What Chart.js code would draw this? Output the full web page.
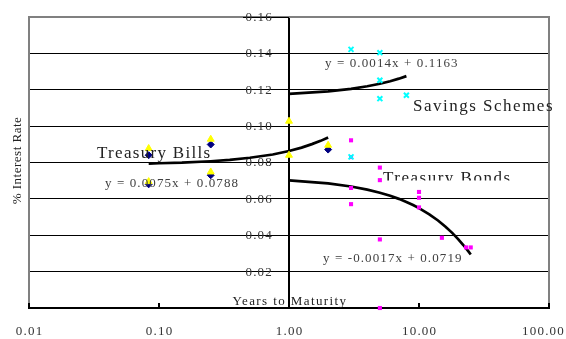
<!DOCTYPE html>
<html><head><meta charset="utf-8">
<script src="https://cdn.jsdelivr.net/npm/chart.js@4/dist/chart.umd.min.js"></script>
<style>html,body{margin:0;padding:0;background:#fff;}canvas{display:block;}</style>
</head><body>
<canvas id="c" width="566" height="339"></canvas>
<script>
// ---- tick labels ----
const xTickValues = [0.01, 0.1, 1, 10, 100];
const xTickLabels = ['0.01', '0.10', '1.00', '10.00', '100.00'];
const yTickValues = [0.02, 0.04, 0.06, 0.08, 0.10, 0.12, 0.14, 0.16];
const yTickLabels = ['0.02', '0.04', '0.06', '0.08', '0.10', '0.12', '0.14', '0.16'];
const yMin = 0, yMax = 0.16, yStep = 0.02;

// ---- Treasury Bills (two observation sets) ----
const billsNavyX   = [0.0833, 0.0833, 0.25, 0.25, 2];
const billsNavyY   = [0.084, 0.068, 0.0899, 0.073, 0.0871];
const billsYellowX = [0.0833, 0.0833, 0.25, 0.25, 1, 1, 2];
const billsYellowY = [0.0877, 0.0695, 0.0928, 0.0748, 0.1027, 0.084, 0.0895];

// ---- Savings Schemes ----
const savingsX = [3, 5, 5, 5, 8, 3];
const savingsY = [0.1422, 0.1404, 0.1252, 0.1151, 0.117, 0.0831];

// ---- Treasury Bonds ----
const bondsX = [3, 3, 5, 5, 3, 3, 10, 10, 10, 5, 15, 23, 25, 5];
const bondsY = [0.0922, 0.083, 0.0772, 0.0703, 0.066, 0.0571, 0.0638, 0.0606, 0.0553, 0.0377, 0.0386, 0.0333, 0.0333, 0.0];

// ---- Trendlines (read along the drawn fits) ----
const billsTrendX = [0.0833, 0.1, 0.15, 0.25, 0.35, 0.5, 0.75, 1, 1.25, 1.5, 1.75, 2];
const billsTrendY = [0.0794, 0.0796, 0.0799, 0.0807, 0.0814, 0.0826, 0.0844, 0.0863, 0.0882, 0.0901, 0.0919, 0.0938];
const savingsTrendX = [1, 2, 3, 4, 5, 6, 7, 8];
const savingsTrendY = [0.1177, 0.1191, 0.1205, 0.1219, 0.1233, 0.1247, 0.1261, 0.1275];
const bondsTrendX = [1, 2, 3, 4, 5, 6, 7, 8, 9, 10, 12, 14, 16, 18, 20, 22, 24, 25];
const bondsTrendY = [0.0702, 0.0685, 0.0668, 0.0651, 0.0634, 0.0617, 0.0600, 0.0583, 0.0566, 0.0549, 0.0515, 0.0481, 0.0447, 0.0413, 0.0379, 0.0345, 0.0311, 0.0294];

// ---- Text labels ----
const seriesNames = ['Treasury Bills', 'Savings Schemes', 'Treasury Bonds'];
const equations = ['y = 0.0075x + 0.0788', 'y = 0.0014x + 0.1163', 'y = -0.0017x + 0.0719'];
const xTitle = 'Years to Maturity';
const yTitle = '% Interest Rate';

const pts = (xs, ys) => xs.map((v, i) => ({x: v, y: ys[i]}));
const SERIF = "'Liberation Serif', 'Times New Roman', serif";

function drawText(ctx, s, x, y, size, color, spacing, align, baseline) {
  ctx.save();
  ctx.font = size + 'px ' + SERIF;
  ctx.fillStyle = color;
  ctx.letterSpacing = spacing + 'px';
  ctx.textAlign = align || 'left';
  ctx.textBaseline = baseline || 'alphabetic';
  ctx.fillText(s, x, y);
  ctx.restore();
}

const decor = {
  id: 'decor',
  beforeDatasetsDraw(chart) {
    const {ctx, chartArea: a, scales: {x, y}} = chart;
    const axisX = x.getPixelForValue(1);
    ctx.save();
    ctx.strokeStyle = '#808080';
    ctx.lineWidth = 2;
    ctx.beginPath();
    ctx.moveTo(a.left, a.bottom); ctx.lineTo(a.left, a.top);
    ctx.lineTo(a.right, a.top); ctx.lineTo(a.right, a.bottom);
    ctx.stroke();
    // short dark tick segment along the top value, beside the y axis
    ctx.strokeStyle = '#000';
    ctx.lineWidth = 1;
    const topY = Math.round(y.getPixelForValue(yMax)) + 0.5;
    ctx.beginPath(); ctx.moveTo(axisX - 46, topY); ctx.lineTo(axisX, topY); ctx.stroke();
    ctx.lineWidth = 2;
    xTickValues.forEach(v => {
      const px = x.getPixelForValue(v);
      ctx.beginPath(); ctx.moveTo(px, a.bottom - 5); ctx.lineTo(px, a.bottom); ctx.stroke();
    });
    ctx.restore();
    // y tick labels, left of the y axis (which sits at x = 1)
    yTickValues.forEach((v, i) => {
      drawText(ctx, yTickLabels[i], axisX - 16, y.getPixelForValue(v) + 0.5, 13, '#333', 1.2, 'right', 'middle');
    });
    // x tick labels
    xTickValues.forEach((v, i) => {
      const px = x.getPixelForValue(v);
      const last = i === xTickValues.length - 1;
      drawText(ctx, xTickLabels[i], last ? 565 : px + 0.6, a.bottom + 24, 13, '#333', 1.2, last ? 'right' : 'center', 'middle');
    });
  },
  afterDatasetsDraw(chart) {
    const {ctx, chartArea: a} = chart;
    drawText(ctx, seriesNames[0], 97, 158, 17, '#222', 1.3);
    drawText(ctx, seriesNames[1], 413, 111, 17, '#222', 1.5);
    ctx.save();
    ctx.beginPath(); ctx.rect(0, 0, 566, 180.5); ctx.clip();
    drawText(ctx, seriesNames[2], 383, 183, 17, '#222', 1.5);
    ctx.restore();
    drawText(ctx, equations[0], 105, 186.5, 13, '#404040', 1.1);
    drawText(ctx, equations[1], 325, 66.5, 13, '#404040', 1.1);
    drawText(ctx, equations[2], 323, 261.5, 13, '#404040', 1.1);
    drawText(ctx, xTitle, 290, 305, 13, '#222', 1.4, 'center');
    ctx.save();
    ctx.translate(18, (a.top + a.bottom) / 2 - 2);
    ctx.rotate(-Math.PI / 2);
    drawText(ctx, yTitle, 0, 0, 13, '#222', 0.5, 'center', 'middle');
    ctx.restore();
  }
};

new Chart(document.getElementById('c'), {
  type: 'scatter',
  data: {
    datasets: [
      {label: 'Savings Schemes', data: pts(savingsX, savingsY), pointStyle: 'crossRot', radius: 3.5,
       borderColor: '#00FFFF', backgroundColor: '#00FFFF', borderWidth: 2, order: 1},
      {label: 'Treasury Bills A', data: pts(billsYellowX, billsYellowY), pointStyle: 'triangle', radius: 4,
       borderColor: '#FFFF00', backgroundColor: '#FFFF00', borderWidth: 1, order: 2},
      {label: 'Treasury Bills B', data: pts(billsNavyX, billsNavyY), pointStyle: 'rectRot', radius: 3.5,
       borderColor: '#000080', backgroundColor: '#000080', borderWidth: 1, order: 3},
      {label: 'Treasury Bonds', data: pts(bondsX, bondsY), pointStyle: 'rect', radius: 2.9,
       borderColor: '#FF00FF', backgroundColor: '#FF00FF', borderWidth: 0, order: 4, clip: false},
      {label: 'Bills trend', data: pts(billsTrendX, billsTrendY), showLine: true, pointRadius: 0,
       borderColor: '#000', borderWidth: 2.7, tension: 0, order: 6},
      {label: 'Savings trend', data: pts(savingsTrendX, savingsTrendY), showLine: true, pointRadius: 0,
       borderColor: '#000', borderWidth: 2.7, tension: 0, order: 6},
      {label: 'Bonds trend', data: pts(bondsTrendX, bondsTrendY), showLine: true, pointRadius: 0,
       borderColor: '#000', borderWidth: 2.7, tension: 0, order: 6}
    ]
  },
  options: {
    responsive: false,
    devicePixelRatio: 1,
    animation: false,
    layout: {padding: {left: 29, right: 17, top: 17, bottom: 0}},
    plugins: {legend: {display: false}, tooltip: {enabled: false}},
    scales: {
      x: {
        type: 'logarithmic', position: 'bottom', min: 0.01, max: 100,
        afterBuildTicks: s => { s.ticks = xTickValues.map(v => ({value: v})); },
        afterFit: s => { s.height = 31; s.paddingLeft = 0; s.paddingRight = 0; },
        ticks: {display: false},
        grid: {display: true, drawOnChartArea: false, drawTicks: false},
        border: {display: true, color: '#000', width: 2}
      },
      y: {
        type: 'linear', position: {x: 1}, min: yMin, max: yMax,
        ticks: {stepSize: yStep, display: false},
        grid: {drawTicks: false, lineWidth: 1,
               color: c => (c.tick && (Math.abs(c.tick.value - yMin) < 1e-9 || Math.abs(c.tick.value - yMax) < 1e-9)) ? 'rgba(0,0,0,0)' : '#000'},
        border: {display: true, color: '#000', width: 2}
      }
    }
  },
  plugins: [decor]
});
</script>
</body></html>
